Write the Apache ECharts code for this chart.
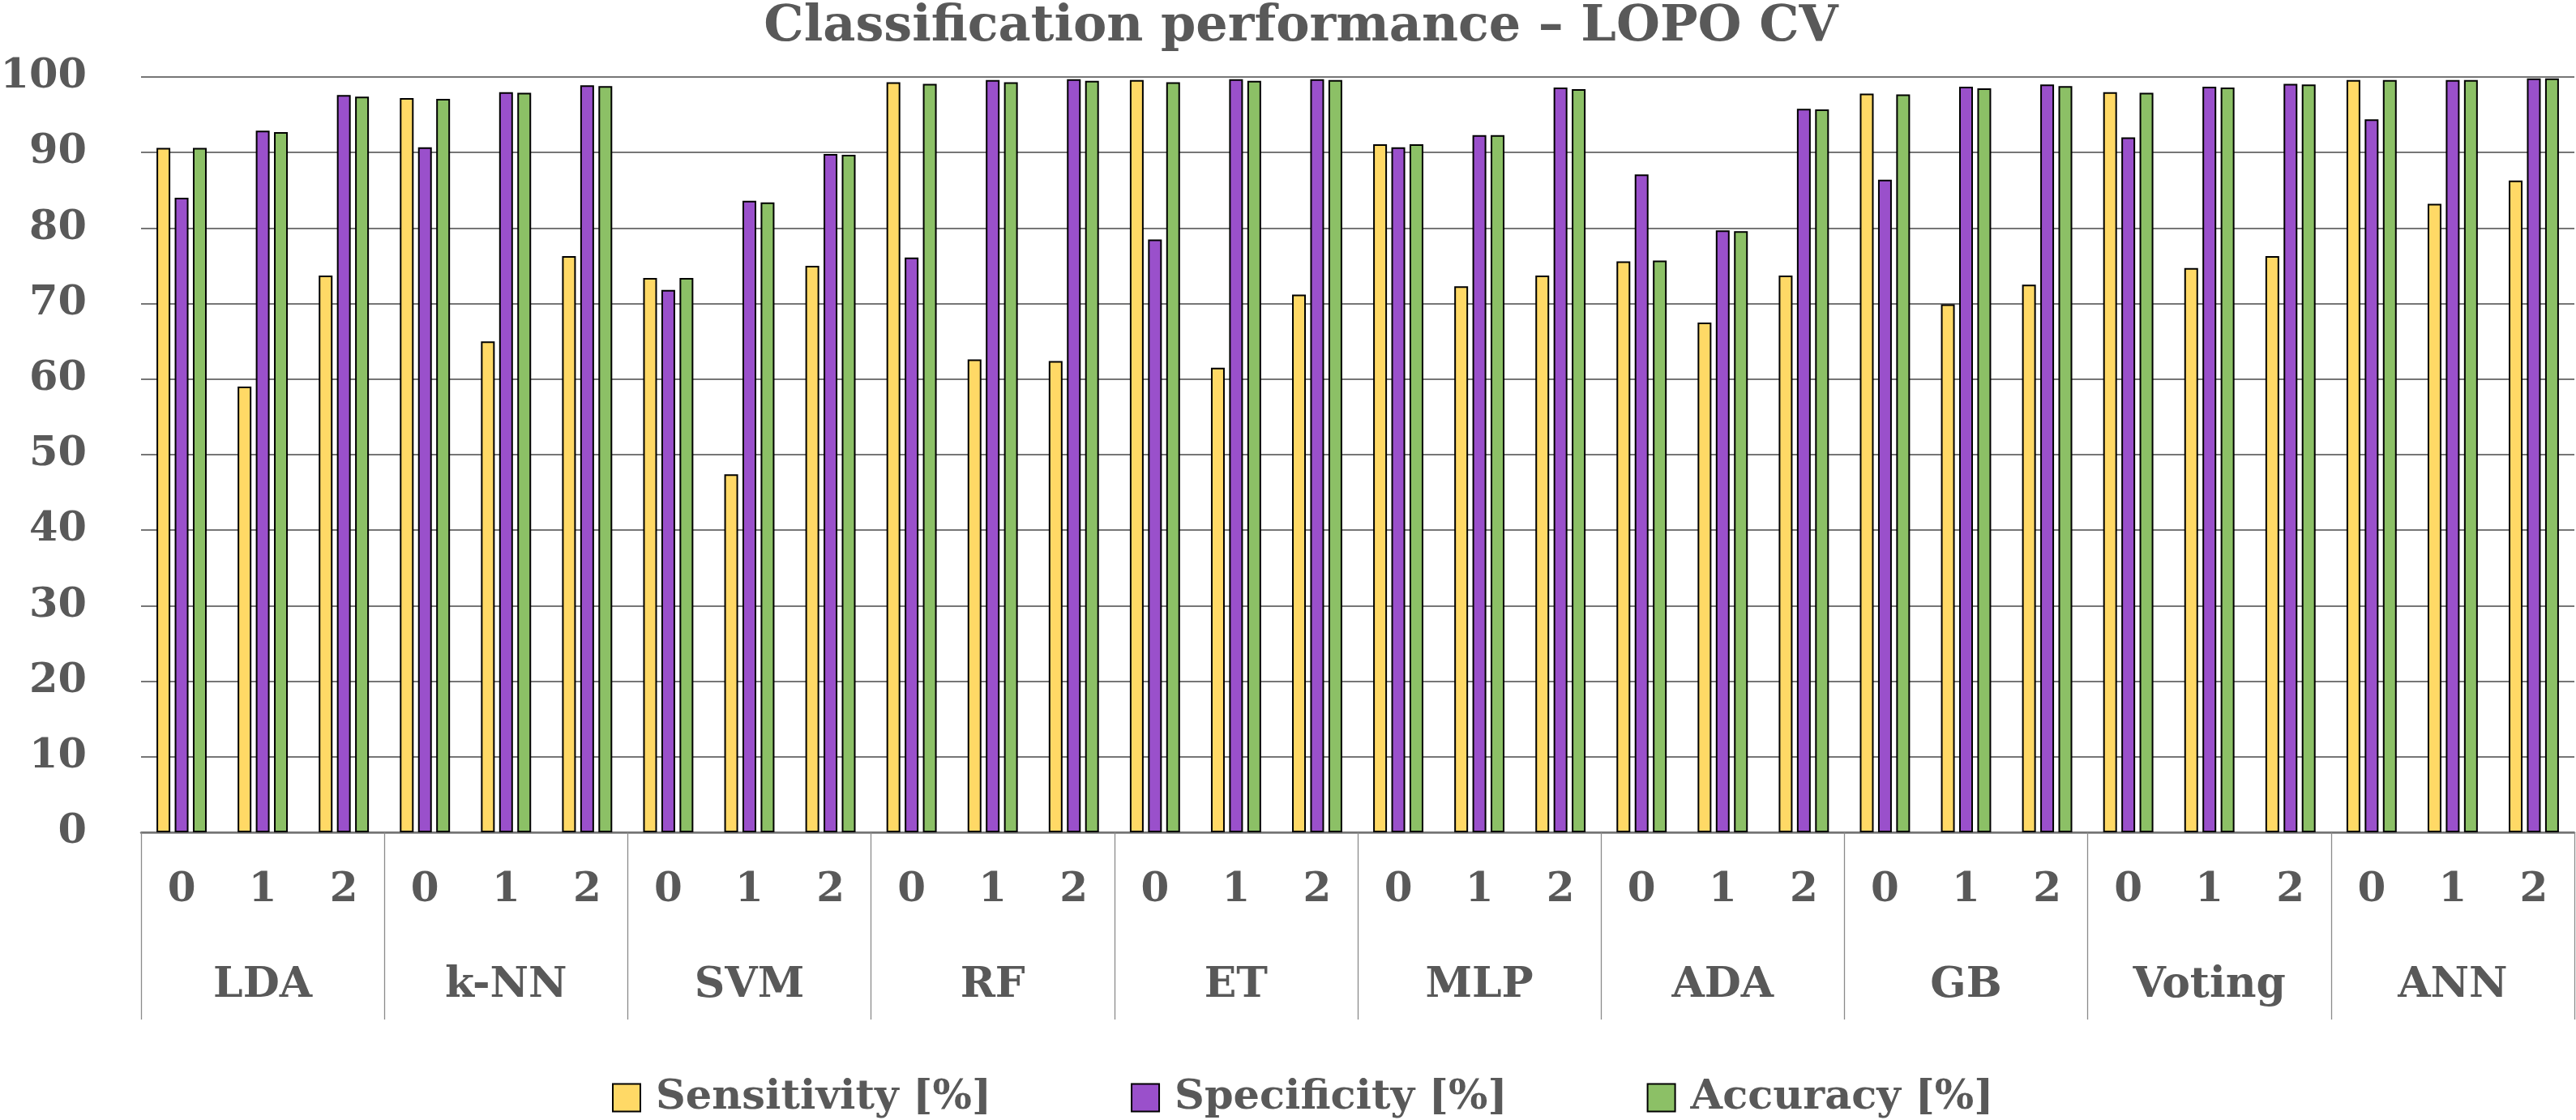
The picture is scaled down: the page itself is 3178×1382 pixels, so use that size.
<!DOCTYPE html>
<html><head><meta charset="utf-8">
<script src="https://cdn.jsdelivr.net/npm/echarts@6/dist/echarts.min.js"></script>
<style>html,body{margin:0;padding:0;background:#fff}#c{width:3178px;height:1382px}</style>
</head><body><div id="c"></div>
<script>
const groups = ['LDA','k-NN','SVM','RF','ET','MLP','ADA','GB','Voting','ANN'];
const subLabels = ['0','1','2'];
const yTicks = [0,10,20,30,40,50,60,70,80,90,100];
const sensitivity = [90.6,59.0,73.7, 97.2,65.0,76.3, 73.4,47.4,75.0, 99.3,62.6,62.4, 99.6,61.5,71.2, 91.1,72.3,73.7, 75.6,67.5,73.7, 97.8,69.9,72.5, 98.0,74.7,76.3, 99.6,83.2,86.3];
const specificity = [84.0,92.9,97.6, 90.7,98.0,98.9, 71.8,83.6,89.8, 76.1,99.6,99.7, 78.5,99.7,99.7, 90.7,92.3,98.6, 87.1,79.7,95.8, 86.4,98.7,99.0, 92.0,98.7,99.1, 94.4,99.6,99.8];
const accuracy = [90.6,92.7,97.4, 97.1,97.9,98.8, 73.4,83.4,89.7, 99.1,99.3,99.5, 99.3,99.5,99.6, 91.1,92.3,98.4, 75.7,79.6,95.7, 97.7,98.5,98.8, 97.9,98.6,99.0, 99.6,99.6,99.8];
const seriesNames = ['Sensitivity [%]','Specificity [%]','Accuracy [%]'];
const titleText = 'Classification performance – LOPO CV';

const FONT = '"DejaVu Serif", serif';
const TXT = '#595959';
const xSub = [];
groups.forEach(g => subLabels.forEach(s => xSub.push(g + '|' + s)));

const chart = echarts.init(document.getElementById('c'));
const colors = ['#FFD966','#9A50CB','#8CC066'];
chart.setOption({
  animation: false,
  backgroundColor: '#fff',
  title: {
    text: titleText, left: 1605, top: 3, textAlign: 'center', padding: 0,
    textStyle: {fontFamily: FONT, fontWeight: 'bold', fontSize: 62, color: TXT}
  },
  legend: {
    data: seriesNames, left: 755, top: 1329, padding: 0, itemWidth: 34, itemHeight: 34, itemGap: 172,
    icon: 'rect',
    textStyle: {fontFamily: FONT, fontWeight: 'bold', fontSize: 51, color: TXT, padding: [0,0,16,14]}
  },
  grid: {left: 174, right: 2, top: 95, bottom: 355, outerBoundsMode: 'none', containLabel: false},
  xAxis: [
    {
      type: 'category', data: xSub, position: 'bottom',
      axisLine: {lineStyle: {color: '#767676', width: 2.5}},
      axisTick: {show: false},
      axisLabel: {interval: 0, margin: 72, verticalAlign: 'middle', formatter: v => v.split('|')[1],
        fontFamily: FONT, fontWeight: 'bold', fontSize: 50, color: TXT}
    },
    {
      type: 'category', data: groups, position: 'bottom', offset: 0,
      axisLine: {show: false},
      axisTick: {show: true, interval: 0, length: 231, lineStyle: {color: '#8a8a8a', width: 1.3}},
      axisLabel: {interval: 0, margin: 189, verticalAlign: 'middle',
        fontFamily: FONT, fontWeight: 'bold', fontSize: 52, color: TXT},
      splitLine: {show: false}
    }
  ],
  yAxis: {
    type: 'value', min: yTicks[0], max: yTicks[yTicks.length-1], interval: yTicks[1]-yTicks[0],
    axisLine: {show: false}, axisTick: {show: false},
    splitLine: {lineStyle: {color: '#767676', width: 2}},
    axisLabel: {margin: 67, verticalAlign: 'middle', padding: [0,0,18,0],
      fontFamily: FONT, fontWeight: 'bold', fontSize: 51, color: TXT}
  },
  series: [sensitivity, specificity, accuracy].map((d, i) => ({
    type: 'bar', name: seriesNames[i], data: d, xAxisIndex: 0,
    barWidth: 17, barGap: '32%',
    itemStyle: {color: colors[i], borderColor: '#000', borderWidth: 2}
  }))
});
</script></body></html>
